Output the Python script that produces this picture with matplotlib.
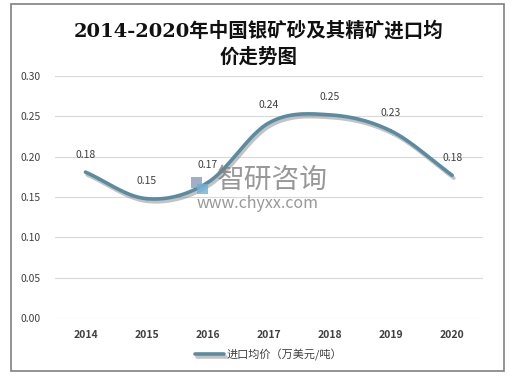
import numpy as np
import matplotlib.pyplot as plt
import matplotlib.patheffects as pe
from matplotlib.patches import Rectangle

plt.rcParams['font.family'] = ['Noto Sans CJK SC', 'DejaVu Sans']

# 数据
years = ['2014', '2015', '2016', '2017', '2018', '2019', '2020']
prices = [0.181, 0.148, 0.168, 0.242, 0.252, 0.232, 0.177]
labels = ['0.18', '0.15', '0.17', '0.24', '0.25', '0.23', '0.18']
series_name = '进口均价（万美元/吨）'
line_color = '#5a8ba0'


def smooth(x, y, n=30):
    # Catmull-Rom 曲线，类似 Excel 的平滑线
    x = np.asarray(x, float)
    y = np.asarray(y, float)
    px = np.concatenate([[2 * x[0] - x[1]], x, [2 * x[-1] - x[-2]]])
    py = np.concatenate([[2 * y[0] - y[1]], y, [2 * y[-1] - y[-2]]])
    xs, ys = [], []
    t = np.linspace(0, 1, n)
    for i in range(1, len(px) - 2):
        for arr, out in ((px, xs), (py, ys)):
            p0, p1, p2, p3 = arr[i - 1], arr[i], arr[i + 1], arr[i + 2]
            c = 0.5 * ((2 * p1) + (-p0 + p2) * t + (2 * p0 - 5 * p1 + 4 * p2 - p3) * t ** 2
                       + (-p0 + 3 * p1 - 3 * p2 + p3) * t ** 3)
            out.extend(c)
    return np.array(xs), np.array(ys)


fig = plt.figure(figsize=(5.18, 3.79), dpi=100)
fig.patches.append(Rectangle((0.021, 0.021), 0.952, 0.969, transform=fig.transFigure,
                             fill=False, edgecolor='#808080', linewidth=1.2))

ax = fig.add_axes([0.106, 0.161, 0.826, 0.638])
x = np.arange(len(years))
sx, sy = smooth(x, prices)
ax.plot(sx, sy, color=line_color, linewidth=2.6, solid_capstyle='round', label=series_name,
        path_effects=[pe.SimpleLineShadow(offset=(1.2, -2.0), shadow_color='#888888', alpha=0.5),
                      pe.Normal()])

for xi, yi, lab in zip(x, prices, labels):
    ax.annotate(lab, (xi, yi), xytext=(0, 9), textcoords='offset points',
                ha='center', va='bottom', fontsize=7.5, color='#404040')

ax.set_xlim(-0.5, len(years) - 0.5)
ax.set_ylim(0, 0.3)
ax.set_yticks(np.arange(0, 0.31, 0.05))
ax.set_yticklabels(['%.2f' % v for v in np.arange(0, 0.31, 0.05)])
ax.set_xticks(x)
ax.set_xticklabels(years, fontweight='bold')
ax.tick_params(axis='both', length=0, labelsize=7.5, labelcolor='#404040')
ax.tick_params(axis='y', pad=10)
ax.tick_params(axis='x', pad=9)
ax.grid(axis='y', color='#d9d9d9', linewidth=0.8)
ax.set_axisbelow(True)
for s in ax.spines.values():
    s.set_visible(False)

# 水印
fig.patches.append(Rectangle((0.368, 0.505), 0.022, 0.028, transform=fig.transFigure,
                             facecolor='#8a9bb8', edgecolor='none', alpha=0.8))
fig.patches.append(Rectangle((0.380, 0.487), 0.022, 0.028, transform=fig.transFigure,
                             facecolor='#6fb0d8', edgecolor='none', alpha=0.8))
fig.text(0.525, 0.525, '智研咨询', fontsize=20, color='#7f7f7f', alpha=0.8, ha='center', va='center')
fig.text(0.498, 0.462, 'www.chyxx.com', fontsize=11.5, color='#7f7f7f', alpha=0.8, ha='center', va='center')

fig.text(0.5, 0.884, '2014-2020年中国银矿砂及其精矿进口均\n价走势图', ha='center', va='center',
         fontsize=14, fontweight='bold', linespacing=1.45, color='#111111',
         family=['DejaVu Serif', 'Noto Sans CJK SC'])

ax.legend(loc='upper center', bbox_to_anchor=(0.5, -0.085), frameon=False, fontsize=8,
          handlelength=2.6, handletextpad=0.2, labelcolor='#404040')

fig.savefig('out.png', dpi=100)
